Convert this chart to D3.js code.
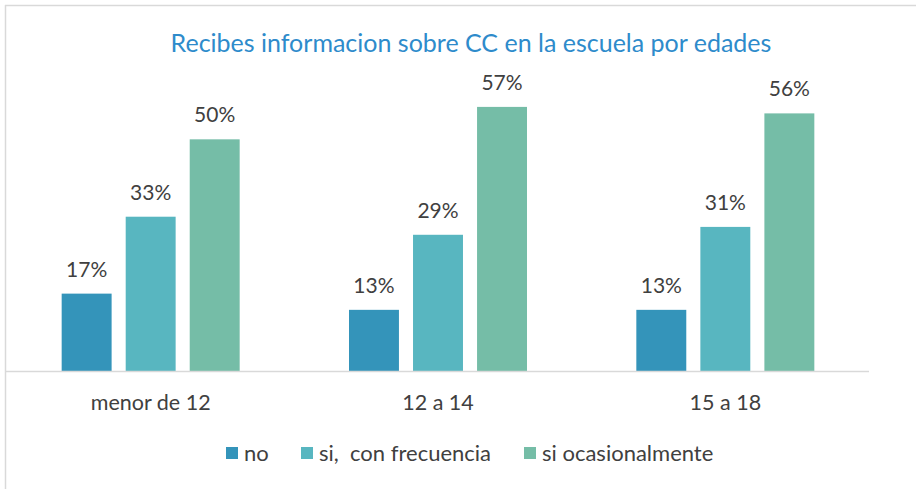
<!DOCTYPE html>
<html>
<head>
<meta charset="utf-8">
<script src="https://cdn.jsdelivr.net/npm/d3@7"></script>
<style>
  body { margin: 0; background: #fff; }
  text { font-family: Lato, "DejaVu Sans Condensed", sans-serif; }
</style>
</head>
<body>
<div id="chart"></div>
<script>
// Categories and series
const categories = ["menor de 12", "12 a 14", "15 a 18"];
const seriesNames = ["no", "si,  con frecuencia", "si ocasionalmente"];
const seriesColors = ["#3494BA", "#58B6C0", "#75BDA7"];

// Values per series (percent), one entry per category
const noValues = [16.7, 13.2, 13.2];
const frecuenciaValues = [33.3, 29.4, 31.1];
const ocasionalValues = [50.0, 57.0, 55.6];

const values = [noValues, frecuenciaValues, ocasionalValues];

const width = 916;
const height = 489;
const plot = { left: 7, right: 869, top: 93, bottom: 371 };

const svg = d3.select("#chart")
  .append("svg")
  .attr("width", width)
  .attr("height", height);

// Chart frame (left and top edges)
svg.append("line")
  .attr("x1", 5.5).attr("x2", 5.5)
  .attr("y1", 5).attr("y2", height)
  .attr("stroke", "#d9d9d9").attr("stroke-width", 1.5);
svg.append("line")
  .attr("x1", 5).attr("x2", width)
  .attr("y1", 5.5).attr("y2", 5.5)
  .attr("stroke", "#d9d9d9").attr("stroke-width", 1.5);

// Scales
const x0 = d3.scaleBand()
  .domain(categories)
  .range([plot.left, plot.right]);

const x1 = d3.scaleBand()
  .domain(seriesNames)
  .range([x0.bandwidth() / 2 - 89, x0.bandwidth() / 2 + 89])
  .paddingInner(0.22)
  .paddingOuter(0);

const y = d3.scaleLinear()
  .domain([0, 60])
  .range([plot.bottom, plot.top]);

// Title
svg.append("text")
  .attr("x", 471)
  .attr("y", 52)
  .attr("text-anchor", "middle")
  .style("font-size", "25px")
  .style("fill", "#2E8BCB")
  .text("Recibes informacion sobre CC en la escuela por edades");

// Bars
const groups = svg.selectAll("g.cat")
  .data(categories)
  .enter()
  .append("g")
  .attr("class", "cat")
  .attr("transform", d => `translate(${x0(d)},0)`);

seriesNames.forEach((s, si) => {
  groups.append("rect")
    .attr("x", x1(s))
    .attr("y", (d, i) => y(values[si][i]))
    .attr("width", x1.bandwidth())
    .attr("height", (d, i) => y(0) - y(values[si][i]))
    .attr("fill", seriesColors[si]);

  groups.append("text")
    .attr("x", x1(s) + x1.bandwidth() / 2)
    .attr("y", (d, i) => y(values[si][i]) - 17)
    .attr("text-anchor", "middle")
    .style("font-size", "21px")
    .style("fill", "#404040")
    .text((d, i) => Math.round(values[si][i]) + "%");
});

// Category axis
const xAxis = svg.append("g")
  .attr("transform", `translate(0,${plot.bottom})`)
  .call(d3.axisBottom(x0).tickSize(0).tickPadding(24));
xAxis.select(".domain")
  .attr("d", `M5,0.5H${plot.right}`)
  .attr("stroke", "#d9d9d9")
  .attr("stroke-width", 1.5);
xAxis.selectAll("text")
  .style("font-size", "21.5px")
  .style("fill", "#404040")
  .style("font-family", "Lato, sans-serif");

// Legend
const legendX = [226, 301, 524];
const legend = svg.selectAll("g.legend")
  .data(seriesNames)
  .enter()
  .append("g")
  .attr("class", "legend")
  .attr("transform", (d, i) => `translate(${legendX[i]},447)`);
legend.append("rect")
  .attr("width", 12).attr("height", 12)
  .attr("fill", (d, i) => seriesColors[i]);
legend.append("text")
  .attr("x", 18)
  .attr("y", 14)
  .style("font-size", "22px")
  .style("fill", "#404040")
  .style("white-space", "pre")
  .text(d => d);
</script>
</body>
</html>
